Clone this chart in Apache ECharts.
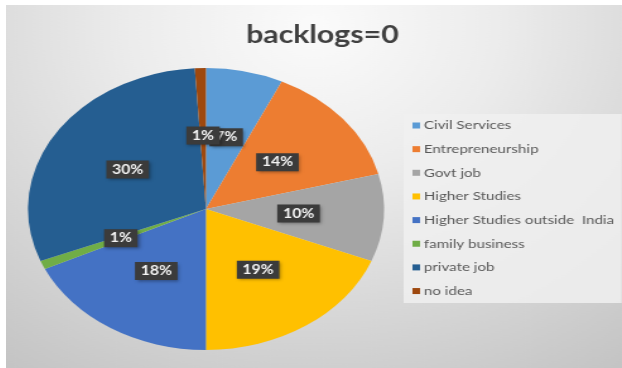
<!DOCTYPE html>
<html>
<head>
<meta charset="utf-8">
<script src="https://cdn.jsdelivr.net/npm/echarts@6/dist/echarts.min.js"></script>
<style>
  html, body { margin: 0; padding: 0; background: #ffffff; }
  body { width: 622px; height: 368px; position: relative; overflow: hidden; }
  /* chart is laid out narrower and stretched horizontally to give the oval pie */
  #wrap { position: absolute; left: 6px; top: 5px; width: 488px; height: 363px;
          transform: scaleX(1.2623); transform-origin: 0 0; }
  #chart { width: 488px; height: 363px; }
</style>
</head>
<body>
<div id="wrap"><div id="chart"></div></div>
<script>
// Career choices of students with zero backlogs (percent)
const categories = [
  'Civil Services',
  'Entrepreneurship',
  'Govt job',
  'Higher Studies',
  'Higher Studies outside  India',
  'family business',
  'private job',
  'no idea'
];
const shares = [7, 14, 10, 19, 18, 1, 30, 1];
const sliceColors = ['#5B9BD5', '#ED7D31', '#A5A5A5', '#FFC000', '#4472C4', '#70AD47', '#255E91', '#9E480E'];
const chartTitle = 'backlogs=0';

const chart = echarts.init(document.getElementById('chart'), null, { renderer: 'canvas' });

const pieData = categories.map((name, i) => ({
  name: name,
  value: shares[i],
  itemStyle: { color: sliceColors[i] }
}));

chart.setOption({
  animation: false,
  backgroundColor: {
    type: 'radial', x: 0.5, y: 0.06, r: 1.15,
    colorStops: [
      { offset: 0, color: '#fbfbfb' },
      { offset: 0.35, color: '#ececec' },
      { offset: 1, color: '#c4c4c4' }
    ]
  },
  title: {
    text: chartTitle,
    left: 245.6,
    textAlign: 'center',
    top: 13,
    textStyle: { fontFamily: 'Lato', fontWeight: 'bold', fontSize: 24, color: '#404040' }
  },
  legend: {
    orient: 'vertical',
    left: 315,
    top: 109,
    padding: [4.5, 6, 5, 7],
    backgroundColor: 'rgba(240,240,240,0.85)',
    itemWidth: 6,
    itemHeight: 6,
    itemGap: 9.65,
    icon: 'rect',
    selectedMode: false,
    data: categories,
    textStyle: { fontFamily: 'Lato', fontSize: 12, lineHeight: 14, color: '#595959', padding: [0, 0, 0, -2] }
  },
  series: [{
    type: 'pie',
    center: [158.4, 204],
    radius: 141,
    startAngle: 90,
    clockwise: true,
    avoidLabelOverlap: false,
    minShowLabelAngle: 0,
    labelLayout: { hideOverlap: false },
    data: pieData,
    itemStyle: { borderWidth: 0 },
    label: {
      show: true,
      position: 'inside',
      formatter: p => p.value + '%',
      fontFamily: 'Lato',
      fontWeight: 'bold',
      fontSize: 12.5,
      lineHeight: 12,
      color: '#f4f4f4',
      backgroundColor: '#3b3b3b',
      padding: [3, 4.5, 3, 4.5],
      shadowColor: 'rgba(0,0,0,0.35)',
      shadowBlur: 3,
      shadowOffsetX: 1.5,
      shadowOffsetY: 1.5
    },
    labelLine: { show: false },
    emphasis: { disabled: true }
  }]
});
</script>
</body>
</html>
